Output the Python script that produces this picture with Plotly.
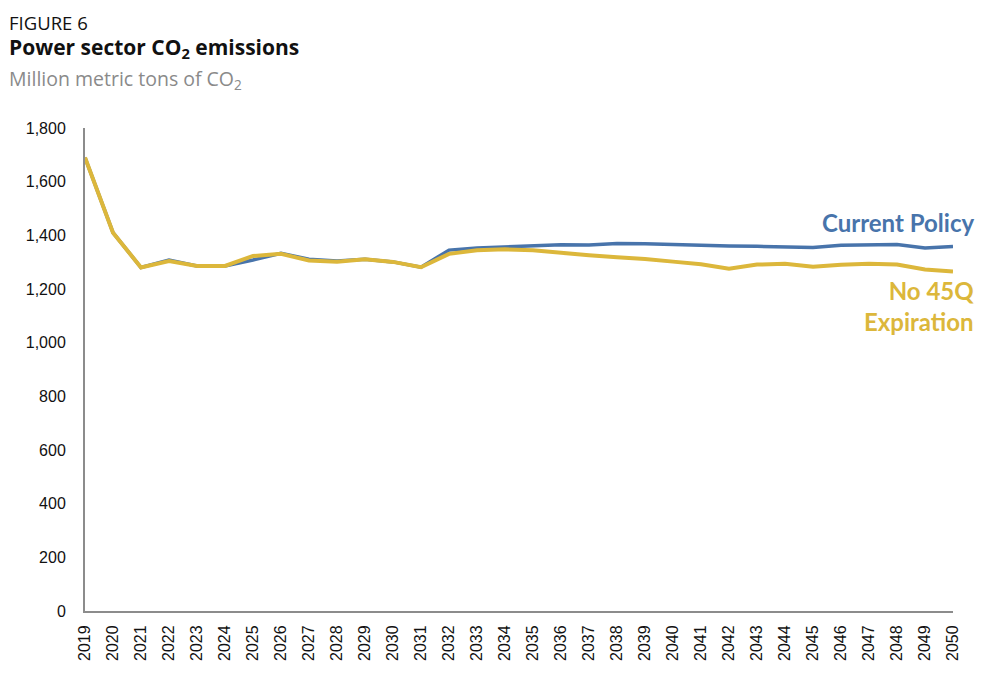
import plotly.graph_objects as go

years = list(range(2019, 2051))
current_policy = [1690, 1410, 1280, 1308, 1286, 1286, 1308, 1333, 1311, 1304, 1311, 1301, 1281,
                  1345, 1353, 1357, 1360, 1365, 1364, 1370, 1369, 1365, 1364, 1360, 1359, 1358,
                  1355, 1363, 1366, 1366, 1353, 1358]
no_45q = [1690, 1410, 1280, 1304, 1286, 1286, 1323, 1331, 1306, 1302, 1311, 1301, 1281,
          1331, 1344, 1348, 1344, 1334, 1326, 1318, 1312, 1302, 1292, 1276, 1291, 1294,
          1283, 1290, 1294, 1291, 1273, 1265]
y_ticks = [0, 200, 400, 600, 800, 1000, 1200, 1400, 1600, 1800]

BLUE = "#4874AB"
GOLD = "#DCB73B"

L, R, T, B = 85, 43, 128, 73
W, H = 996, 684
pw, ph = W - L - R, H - T - B

def px(x):
    return (x - L) / pw

def py(y):
    return (H - B - y) / ph

fig = go.Figure()
fig.add_trace(go.Scatter(x=years, y=current_policy, mode="lines", name="Current Policy",
                         line=dict(color=BLUE, width=3.5), showlegend=False))
fig.add_trace(go.Scatter(x=years, y=no_45q, mode="lines", name="No 45Q Expiration",
                         line=dict(color=GOLD, width=4), showlegend=False))

tickfont = dict(family="Liberation Sans, Arial, sans-serif", size=16, color="#111")
fig.update_layout(
    width=W, height=H,
    margin=dict(l=L, r=R, t=T, b=B),
    paper_bgcolor="white", plot_bgcolor="white",
    font=dict(family="Liberation Sans, Arial, sans-serif", size=16, color="#222"),
    xaxis=dict(range=[2019, 2050], tickvals=years, ticktext=[str(y) for y in years],
               tickangle=-90, showgrid=False, zeroline=False, showline=True,
               linecolor="#8c8c8c", linewidth=2, ticks="", ticklabelstandoff=6,
               tickfont=tickfont),
    yaxis=dict(range=[0, 1800], tickvals=y_ticks, tickformat=",", showgrid=False,
               zeroline=False, showline=True, linecolor="#8c8c8c", linewidth=2,
               ticks="", ticklabelstandoff=14, tickfont=tickfont),
)

fig.add_annotation(xref="paper", yref="paper", x=px(7), y=py(22), xanchor="left", yanchor="middle",
                   text="FIGURE 6", showarrow=False,
                   font=dict(family="Open Sans, sans-serif", size=18.5, color="#111"))
fig.add_annotation(xref="paper", yref="paper", x=px(7), y=py(48), xanchor="left", yanchor="middle",
                   text="<b>Power sector CO<sub>2</sub> emissions</b>", showarrow=False,
                   font=dict(family="Open Sans, sans-serif", size=21, color="#111"))
fig.add_annotation(xref="paper", yref="paper", x=px(7), y=py(79), xanchor="left", yanchor="middle",
                   text="Million metric tons of CO<sub>2</sub>", showarrow=False,
                   font=dict(family="Open Sans, sans-serif", size=19.5, color="#8a8a8a"))

fig.add_annotation(xref="paper", yref="paper", x=px(976), y=py(222), xanchor="right", yanchor="middle",
                   text="<b>Current Policy</b>", showarrow=False,
                   font=dict(family="Lato, sans-serif", size=24, color=BLUE))
fig.add_annotation(xref="paper", yref="paper", x=px(976), y=py(306), xanchor="right", yanchor="middle",
                   text="<b>No 45Q<br>Expiration</b>", showarrow=False, align="right",
                   font=dict(family="Lato, sans-serif", size=24, color=GOLD))

fig.write_html("out.html", post_script="document.body.style.margin='0';",
               config={"displayModeBar": False})
